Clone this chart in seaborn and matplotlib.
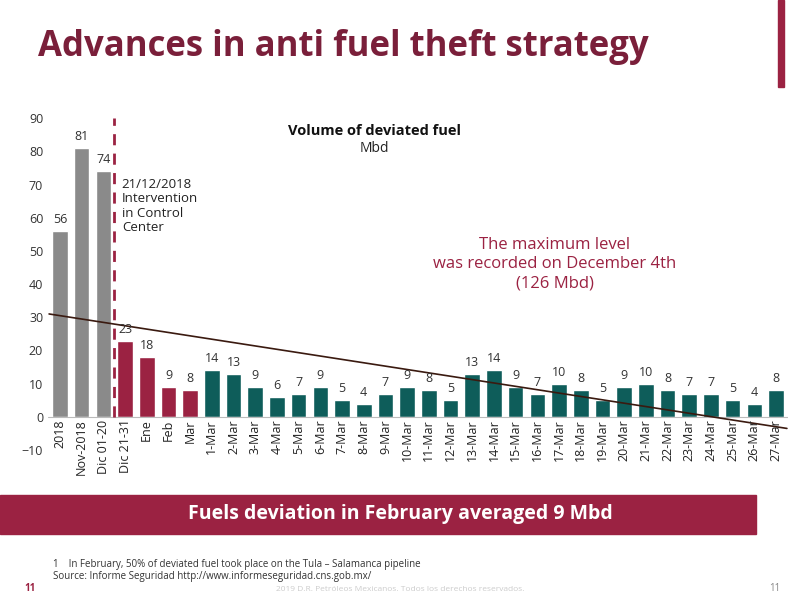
import matplotlib
matplotlib.use("Agg")
import matplotlib.pyplot as plt
import seaborn as sns
import pandas as pd
from matplotlib.patches import Rectangle

labels = ["2018","Nov-2018","Dic 01-20","Dic 21-31","Ene","Feb","Mar"] + [f"{i}-Mar" for i in range(1,28)]
values = [56,81,74,23,18,9,8,14,13,9,6,7,9,5,4,7,9,8,5,13,14,9,7,10,8,5,9,10,8,7,7,5,4,8]
groups = ["hist"]*3 + ["month"]*4 + ["day"]*27
palette = {"hist":"#8a8a8a","month":"#9b2242","day":"#0e5d5a"}
trend_start, trend_end = 31, -3.5

df = pd.DataFrame({"label":labels,"value":values,"group":groups})
sns.set_style("white")
plt.rcParams['font.family'] = ['Open Sans','DejaVu Sans']
fig = plt.figure(figsize=(8,6), dpi=100)
ax = fig.add_axes([0.06,0.25,0.925,0.553])
colors = [palette[g] for g in groups]
sns.barplot(data=df, x="label", y="value", hue="label", palette=colors, legend=False, ax=ax, width=0.72, saturation=1)
ax.set_ylim(-10,90)
ax.set_xlim(-0.55,33.55)
ax.set_yticks(range(-10,91,10))
ax.tick_params(axis='y', labelsize=9, colors="#333333", length=0)
ax.set_xticks([])
ax.set_xlabel(""); ax.set_ylabel("")
for s in ax.spines.values(): s.set_visible(False)
ax.axhline(0, color="#bbbbbb", lw=0.8)
for i,(l,v) in enumerate(zip(labels,values)):
    ax.text(i, v+1.5, str(v), ha="center", va="bottom", fontsize=9, color="#333333")
    ax.text(i, -0.8, l, rotation=90, ha="center", va="top", fontsize=9, color="#222222")
ax.plot([-0.5,33.5],[trend_start,trend_end], color="#3a1a10", lw=1.2)
ax.plot([2.5,2.5],[0,90], color="#9b2242", lw=2, ls=(0,(4,3)))
ax.text(2.85,72,"21/12/2018\nIntervention\nin Control\nCenter", fontsize=9.5, color="#222222", va="top", linespacing=1.15)
ax.text(14.5,86,"Volume of deviated fuel", fontsize=10.5, fontweight="bold", ha="center", va="center", color="#111111")
ax.text(14.5,81,"Mbd", fontsize=10, ha="center", va="center", color="#222222")
ax.text(22.8,46,"The maximum level\nwas recorded on December 4th\n(126 Mbd)", fontsize=12, ha="center", va="center", color="#9b2242", linespacing=1.25)

fig.text(0.047,0.922,"Advances in anti fuel theft strategy", fontsize=25, fontweight="bold", color="#7a1f3a", va="center")
fig.add_artist(Rectangle((0.973,0.855),0.007,0.145, transform=fig.transFigure, color="#9b2242"))
fig.add_artist(Rectangle((0.0,0.11),0.945,0.065, transform=fig.transFigure, color="#9b2242"))
fig.text(0.5,0.143,"Fuels deviation in February averaged 9 Mbd", fontsize=14, fontweight="bold", color="white", ha="center", va="center")
fig.text(0.066,0.055,"1    In February, 50% of deviated fuel took place on the Tula – Salamanca pipeline", fontsize=7, color="#333333")
fig.text(0.066,0.035,"Source: Informe Seguridad http://www.informeseguridad.cns.gob.mx/", fontsize=7, color="#333333")
fig.text(0.03,0.015,"11", fontsize=7, color="#9b2242", fontweight="bold")
fig.text(0.975,0.015,"11", fontsize=7, color="#888888", ha="right")
fig.text(0.5,0.015,"2019 D.R. Petróleos Mexicanos. Todos los derechos reservados.", fontsize=6, color="#cccccc", ha="center")
fig.savefig("out.png", dpi=100)
